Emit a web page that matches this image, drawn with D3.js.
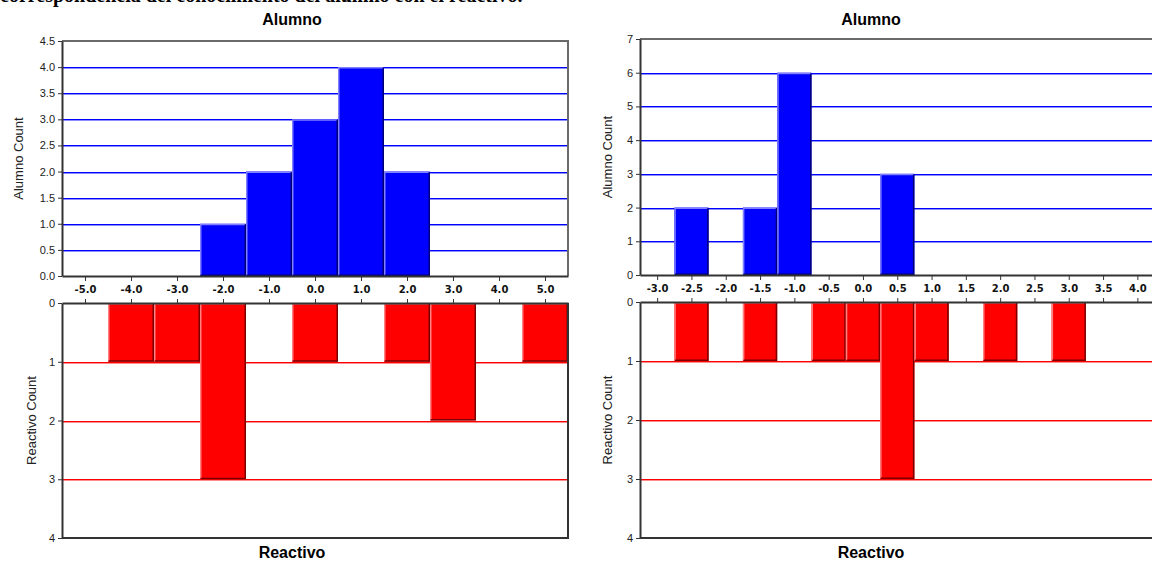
<!DOCTYPE html>
<html>
<head>
<meta charset="utf-8">
<script src="https://cdn.jsdelivr.net/npm/d3@7"></script>
<style>
  html, body { margin: 0; padding: 0; background: #fff; }
  svg { display: block; }
</style>
</head>
<body>
<div id="my_dataviz"></div>
<script>
// ---- data
var leftAlumnoX = [-2, -1, 0, 1, 2];
var leftAlumnoCount = [1, 2, 3, 4, 2];
var leftReactivoX = [-4, -3, -2, 0, 2, 3, 5];
var leftReactivoCount = [1, 1, 3, 1, 1, 2, 1];
var leftXTicks = [-5, -4, -3, -2, -1, 0, 1, 2, 3, 4, 5];
var leftAlumnoTicks = [0, 0.5, 1, 1.5, 2, 2.5, 3, 3.5, 4, 4.5];

var rightAlumnoX = [-2.5, -1.5, -1.0, 0.5];
var rightAlumnoCount = [2, 2, 6, 3];
var rightReactivoX = [-2.5, -1.5, -0.5, 0.0, 0.5, 1.0, 2.0, 3.0];
var rightReactivoCount = [1, 1, 1, 1, 3, 1, 1, 1];
var rightXTicks = [-3, -2.5, -2, -1.5, -1, -0.5, 0, 0.5, 1, 1.5, 2, 2.5, 3, 3.5, 4];
var rightAlumnoTicks = [0, 1, 2, 3, 4, 5, 6, 7];

var reactivoTicks = [0, 1, 2, 3, 4];

// ---- svg
var W = 1152, H = 562;
var svg = d3.select("div#my_dataviz")
    .append("svg")
      .attr("width", W)
      .attr("height", H);

// caption line, cut off at the top of the picture (as in the reference)
svg.append("text")
    .attr("x", 0)
    .attr("y", 2)
    .attr("font-family", "Liberation Serif")
    .attr("font-weight", "bold")
    .attr("font-size", 20)
    .attr("fill", "#000")
    .text("correspondencia del conocimiento del alumno con el reactivo.");

var sansFont = "Liberation Sans, Arial, sans-serif";
var fmt1 = d => d.toFixed(1);   // plain hyphen, not unicode minus

function drawBars(g, xs, counts, binW, x, y, fill, light, dark) {
    var bars = g.selectAll(null)
        .data(xs.map((d, i) => ({x: d, n: counts[i]})))
        .enter().append("g");

    bars.append("rect")
        .attr("x", d => x(d.x - binW / 2))
        .attr("y", d => Math.min(y(d.n), y(0)))
        .attr("width", d => x(d.x + binW / 2) - x(d.x - binW / 2))
        .attr("height", d => Math.abs(y(d.n) - y(0)))
        .attr("fill", fill);

    // bevel: light on left/top, dark on right/bottom
    bars.append("path")
        .attr("fill", "none")
        .attr("stroke", light)
        .attr("stroke-width", 1.5)
        .attr("d", d => {
            var x0 = x(d.x - binW / 2) + 0.75, x1 = x(d.x + binW / 2) - 0.75;
            var yt = Math.min(y(d.n), y(0)) + 0.75, yb = Math.max(y(d.n), y(0)) - 0.75;
            return "M" + x0 + "," + yb + "V" + yt + "H" + x1;
        });
    bars.append("path")
        .attr("fill", "none")
        .attr("stroke", dark)
        .attr("stroke-width", 1.5)
        .attr("d", d => {
            var x0 = x(d.x - binW / 2) + 0.75, x1 = x(d.x + binW / 2) - 0.75;
            var yt = Math.min(y(d.n), y(0)) + 0.75, yb = Math.max(y(d.n), y(0)) - 0.75;
            return "M" + x1 + "," + yt + "V" + yb + "H" + x0;
        });
}

function drawGrid(g, ticks, x, y, color, light) {
    g.selectAll(null).data(ticks).enter().append("line")
        .attr("x1", x.range()[0]).attr("x2", x.range()[1])
        .attr("y1", d => Math.round(y(d)) + 1.5).attr("y2", d => Math.round(y(d)) + 1.5)
        .attr("stroke", light).attr("stroke-width", 1);
    g.selectAll(null).data(ticks).enter().append("line")
        .attr("x1", x.range()[0]).attr("x2", x.range()[1])
        .attr("y1", d => Math.round(y(d)) + 0.5).attr("y2", d => Math.round(y(d)) + 0.5)
        .attr("stroke", color).attr("stroke-width", 1);
}

function panel(p) {
    var g = svg.append("g");

    var x = d3.scaleLinear().domain(p.xDomain).range([p.left, p.right]);
    var yTop = d3.scaleLinear().domain([0, p.topMax]).range([p.topBottom, p.topTop]);
    var yBot = d3.scaleLinear().domain([0, 4]).range([p.botTop, p.botBottom]);

    // ---- Alumno (top)
    drawGrid(g, p.topTicks.filter(d => d > 0 && d < p.topMax), x, yTop, "#0000ff", "#8c8cff");
    drawBars(g, p.alumnoX, p.alumnoCount, p.binW, x, yTop, "#0000ff", "#7f7fff", "#00007a");

    // frame
    g.append("path")
        .attr("fill", "none").attr("stroke", "#6a6a6a").attr("stroke-width", 2)
        .attr("d", "M" + p.left + "," + yTop(p.topMax) + "H" + p.right + "V" + yTop(0));

    var yAxisTop = g.append("g")
        .attr("transform", "translate(" + p.left + ",0)")
        .call(d3.axisLeft(yTop).tickValues(p.topTicks).tickFormat(p.topFmt).tickSize(4).tickSizeOuter(0));
    var xAxisTop = g.append("g")
        .attr("transform", "translate(0," + yTop(0) + ")")
        .call(d3.axisBottom(x).tickValues(p.xTicks).tickFormat(fmt1).tickSize(5).tickSizeOuter(0));

    // ---- Reactivo (bottom, hanging)
    drawGrid(g, [1, 2, 3], x, yBot, "#ff0000", "#ff8c8c");
    drawBars(g, p.reactivoX, p.reactivoCount, p.binW, x, yBot, "#ff0000", "#ff8080", "#7a0000");

    g.append("path")
        .attr("fill", "none").attr("stroke", "#333").attr("stroke-width", 2)
        .attr("d", "M" + p.right + "," + yBot(0) + "V" + yBot(4) + "H" + p.left);

    var yAxisBot = g.append("g")
        .attr("transform", "translate(" + p.left + ",0)")
        .call(d3.axisLeft(yBot).tickValues(reactivoTicks).tickFormat(d3.format("d")).tickSize(4).tickSizeOuter(0));
    var xAxisBot = g.append("g")
        .attr("transform", "translate(0," + yBot(0) + ")")
        .call(d3.axisTop(x).tickValues(p.xTicks).tickFormat("").tickSize(4).tickSizeOuter(0));

    [yAxisTop, xAxisTop, yAxisBot, xAxisBot].forEach(a => {
        a.select(".domain").attr("stroke", "#333").attr("stroke-width", 2);
        a.selectAll(".tick line").attr("stroke", "#333");
    });
    [yAxisTop, yAxisBot].forEach(a => {
        a.selectAll(".tick text")
            .attr("font-family", sansFont).attr("font-size", 11).attr("fill", "#222");
    });
    xAxisTop.selectAll(".tick text")
        .attr("font-family", "DejaVu Sans, Verdana, sans-serif")
        .attr("font-weight", "bold")
        .attr("font-size", 10)
        .attr("fill", "#111")
        .attr("dy", "0.9em");

    // titles
    g.append("text")
        .attr("x", p.titleX).attr("y", 25)
        .attr("text-anchor", "middle")
        .attr("font-family", sansFont).attr("font-weight", "bold").attr("font-size", 16)
        .text("Alumno");
    g.append("text")
        .attr("x", p.titleX).attr("y", 558)
        .attr("text-anchor", "middle")
        .attr("font-family", sansFont).attr("font-weight", "bold").attr("font-size", 16)
        .text("Reactivo");

    g.append("text")
        .attr("transform", "translate(" + p.labX + "," + ((yTop(0) + yTop(p.topMax)) / 2) + ") rotate(-90)")
        .attr("text-anchor", "middle").attr("dy", "0.35em")
        .attr("font-family", sansFont).attr("font-size", 13).attr("fill", "#222")
        .text("Alumno Count");
    g.append("text")
        .attr("transform", "translate(" + p.labX2 + "," + ((yBot(0) + yBot(4)) / 2) + ") rotate(-90)")
        .attr("text-anchor", "middle").attr("dy", "0.35em")
        .attr("font-family", sansFont).attr("font-size", 13).attr("fill", "#222")
        .text("Reactivo Count");
}

panel({
    left: 62, right: 568, xDomain: [-5.5, 5.5], xTicks: leftXTicks, binW: 1,
    topTop: 41, topBottom: 276, topMax: 4.5, topTicks: leftAlumnoTicks, topFmt: fmt1,
    botTop: 303, botBottom: 538,
    alumnoX: leftAlumnoX, alumnoCount: leftAlumnoCount,
    reactivoX: leftReactivoX, reactivoCount: leftReactivoCount,
    titleX: 292, labX: 18, labX2: 31
});

panel({
    left: 640, right: 1154.5, xDomain: [-3.25, 4.25], xTicks: rightXTicks, binW: 0.5,
    topTop: 39, topBottom: 275, topMax: 7, topTicks: rightAlumnoTicks, topFmt: d3.format("d"),
    botTop: 302, botBottom: 538,
    alumnoX: rightAlumnoX, alumnoCount: rightAlumnoCount,
    reactivoX: rightReactivoX, reactivoCount: rightReactivoCount,
    titleX: 871, labX: 607, labX2: 607
});
</script>
</body>
</html>
